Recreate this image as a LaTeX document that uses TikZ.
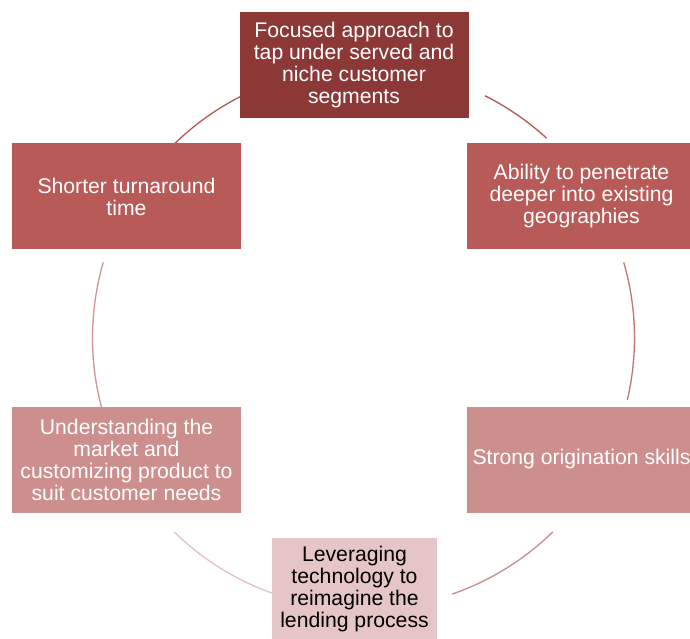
\documentclass[tikz,border=0pt]{standalone}
\usepackage{fontspec}
\setmainfont{Liberation Sans}
\usepackage{tikz}
\usetikzlibrary{calc}

\definecolor{boxdark}{HTML}{8B3837}
\definecolor{boxmid}{HTML}{B85A57}
\definecolor{boxsoft}{HTML}{CD8F8D}
\definecolor{boxpale}{HTML}{E5C5C6}

\begin{document}
\begin{tikzpicture}[x=1pt,y=1pt,
    stepbox/.style={rectangle,minimum width=229pt,minimum height=106pt,
      inner sep=0pt,align=center,text=white,
      font=\fontsize{21.2}{22}\selectfont},
    ring/.style={line width=1.3pt}]
  \useasboundingbox (0,0) rectangle (690,638);
  \clip (0,0) rectangle (690,638);
  \coordinate (c) at (363.5,300);

  % arcs of the cycle
  \draw[ring,draw=boxmid!90!boxdark] ([shift={(63.4:271pt)}]c) arc (63.4:47.5:271pt);
  \draw[ring,draw=boxmid!85] ([shift={(16.2:271pt)}]c) arc (16.2:-13.2:271pt);
  \draw[ring,draw=boxsoft!90!boxmid] ([shift={(-45.7:271pt)}]c) arc (-45.7:-70.9:271pt);
  \draw[ring,draw=boxpale!90!boxsoft] ([shift={(-109.8:271pt)}]c) arc (-109.8:-134.3:271pt);
  \draw[ring,draw=boxsoft!90!boxpale] ([shift={(-165:271pt)}]c) arc (-165:-196.2:271pt);
  \draw[ring,draw=boxmid!95!boxdark] ([shift={(134.2:271pt)}]c) arc (134.2:116.9:271pt);

  \node[stepbox,fill=boxdark] (focus) at (354,573)
    {Focused approach to\\tap under served and\\niche customer\\segments};
  \node[stepbox,fill=boxmid] (depth) at (581.5,441.5)
    {Ability to penetrate\\deeper into existing\\geographies};
  \node[stepbox,fill=boxsoft] (orig) at (581.5,178.5)
    {Strong origination skills};
  \node[stepbox,fill=boxpale,text=black,minimum width=165pt,minimum height=102pt]
    (tech) at (354.5,49)
    {Leveraging\\technology to\\reimagine the\\lending process};
  \node[stepbox,fill=boxsoft] (market) at (126.5,178.5)
    {Understanding the\\market and\\customizing product to\\suit customer needs};
  \node[stepbox,fill=boxmid] (speed) at (126.5,441.5)
    {Shorter turnaround\\time};
\end{tikzpicture}
\end{document}
